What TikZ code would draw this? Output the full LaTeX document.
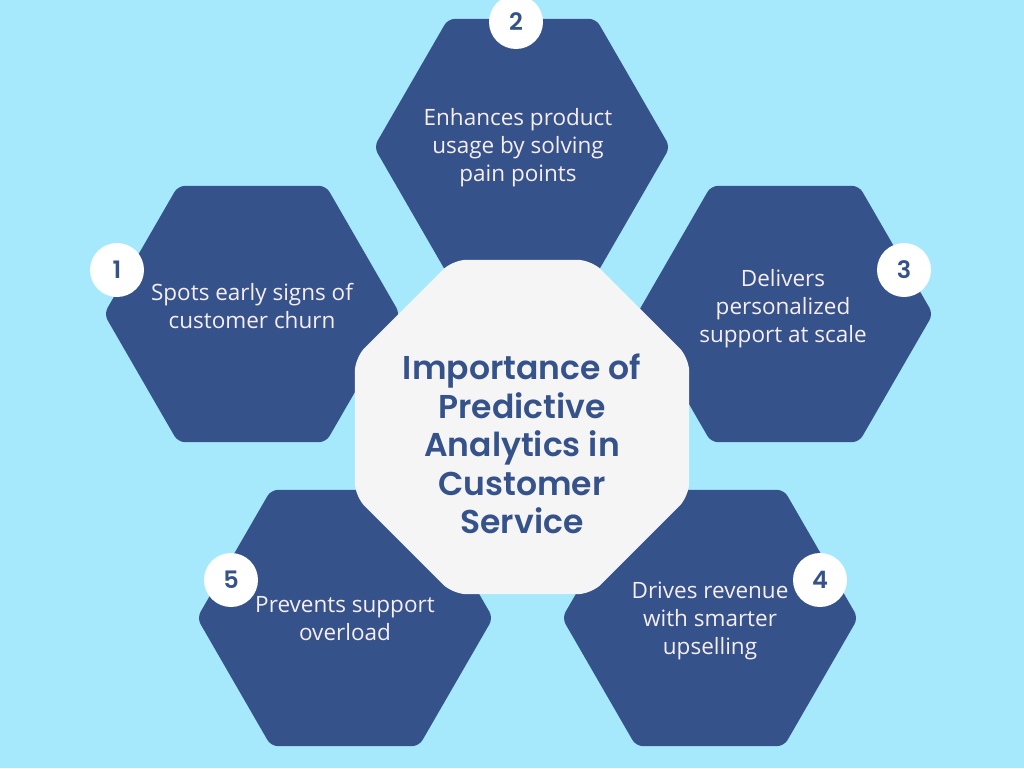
\documentclass[tikz,border=0pt]{standalone}
\usepackage{fontspec}
\setmainfont{Open Sans}
\newfontfamily\headfont{Poppins}[BoldFont={Poppins SemiBold}]
\usetikzlibrary{shapes.geometric}
\definecolor{skyback}{HTML}{A6E9FD}
\definecolor{hexblue}{HTML}{35528B}
\definecolor{hubgray}{HTML}{F5F5F5}
\definecolor{paletext}{HTML}{F7EEF2}
\tikzset{ hex/.style = { regular polygon % petal
        , regular polygon sides = 6
        , minimum size = 296pt
        , inner sep = 0pt
        , rounded corners = 7pt
        , fill = hexblue
        }
        , hub/.style = { regular polygon % centre
        , regular polygon sides = 8
        , minimum size = 362pt
        , inner sep = 0pt
        , rounded corners = 14pt
        , fill = hubgray
        }
        , txt/.style = { align = center % petal text
        , text = paletext
        , font = \fontsize{22.5}{28}\selectfont
        }
        , num/.style = { circle % badge
        , fill = white
        , minimum size = 54pt
        , inner sep = 0pt
        , text = hexblue
        , font = \headfont\bfseries\fontsize{24}{24}\selectfont
        }
        }
\begin{document}
\begin{tikzpicture}[x=1pt, y=-1pt]
        \fill [skyback] (0,0) rectangle (1024,768);
        \useasboundingbox (0,0) rectangle (1024,768);

        \node [hex](h1) at (252,314) {};
        \node [hex](h2) at (522,147) {};
        \node [hex](h3) at (785,314) {};
        \node [hex](h4) at (710,618) {};
        \node [hex](h5) at (345,618) {};

        \node [txt](t1) at (252,306) {Spots early signs of\\customer churn};
        \node [txt](t2) at (518,148) {Enhances product\\usage by solving\\pain points};
        \node [txt](t3) at (783,309) {Delivers\\personalized\\support at scale};
        \node [txt](t4) at (710,621) {Drives revenue\\with smarter\\upselling};
        \node [txt](t5) at (345,619) {Prevents support\\overload};

        \node [hub](hub) at (522,427) {};
        \node [align=center, text=hexblue, font=\headfont\bfseries\fontsize{33}{38.5}\selectfont](title) at (522,444)
                {Importance of\\Predictive\\Analytics in\\Customer\\Service};

        \node [num](n1) at (117,270) {1};
        \node [num](n2) at (516,22) {2};
        \node [num](n3) at (904,270) {3};
        \node [num](n4) at (820,580) {4};
        \node [num](n5) at (231,580) {5};
\end{tikzpicture}
\end{document}
